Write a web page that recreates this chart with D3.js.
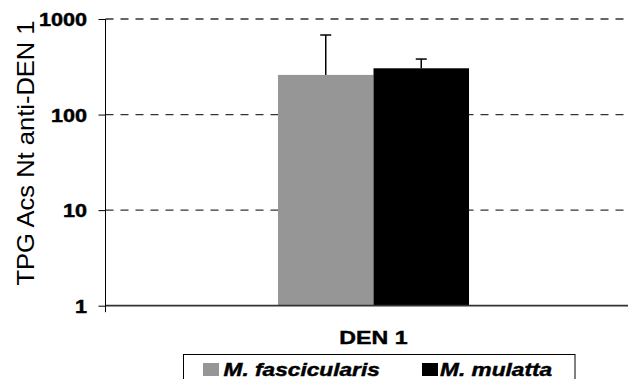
<!DOCTYPE html>
<html>
<head>
<meta charset="utf-8">
<script src="https://cdn.jsdelivr.net/npm/d3@7/dist/d3.min.js"></script>
<style>
  html, body { margin: 0; padding: 0; background: #fff; }
  svg { display: block; font-family: Arial, "Liberation Sans", sans-serif; }
</style>
</head>
<body>
<svg id="chart" width="629" height="379"></svg>
<script>
// Titres de neutralisation anti-DEN 1 (moyenne + écart-type) par espèce
const categories = ["DEN 1"];
const seriesNames = ["M. fascicularis", "M. mulatta"];
const means = [260, 305];
const sdUpper = [420, 76];
const yTicks = [1, 10, 100, 1000];
const yTitle = "TPG Acs Nt anti-DEN 1";

const colors = { "M. fascicularis": "#969696", "M. mulatta": "#000000" };
const W = 629, H = 379;
const SX = 1.22; // horizontal widening of the lettering

const svg = d3.select("#chart");
svg.append("rect").attr("width", W).attr("height", H).attr("fill", "#fff");

const axisX = 105.5;
const y = d3.scaleLog().domain([1, 1000]).range([305.7, 19]);
const x0 = d3.scaleBand().domain(categories).range([axisX, 641.5])
  .paddingInner(0).paddingOuter(0.903);
const x1 = d3.scaleBand().domain(seriesNames).range([0, x0.bandwidth()]).padding(0);

// helper: text widened horizontally around its anchor, bold faces slightly heavier
function wideText(g, str, px, py, opts) {
  const t = g.append("text")
    .attr("transform", `translate(${px},${py}) scale(${SX},1)`)
    .attr("text-anchor", opts.anchor || "start")
    .attr("font-size", opts.size)
    .attr("font-weight", opts.weight || "normal")
    .attr("font-style", opts.style || "normal")
    .attr("fill", "#000")
    .text(str);
  if (opts.weight === "bold") t.attr("stroke", "#000").attr("stroke-width", 0.45);
  return t;
}

// dashed gridlines
svg.append("g").selectAll("line")
  .data(yTicks.filter(d => d > 1))
  .join("line")
  .attr("x1", axisX).attr("x2", W)
  .attr("y1", d => y(d)).attr("y2", d => y(d))
  .attr("stroke", "#333").attr("stroke-width", 1.3)
  .attr("stroke-dasharray", "8,7");

// bars
const rows = categories.map(c => seriesNames.map((s, i) => ({ cat: c, s, v: means[i], e: sdUpper[i] })));
const grp = svg.append("g").selectAll("g").data(rows).join("g")
  .attr("transform", (d, i) => `translate(${x0(categories[i])},0)`);
grp.selectAll("rect").data(d => d).join("rect")
  .attr("x", d => x1(d.s))
  .attr("width", x1.bandwidth())
  .attr("y", d => y(d.v))
  .attr("height", d => y(1) - y(d.v))
  .attr("fill", d => colors[d.s]);

// error bars (upper only)
const capHalf = 5.5;
grp.selectAll("g.err").data(d => d).join("g").attr("class", "err")
  .each(function (d) {
    const cx = x1(d.s) + x1.bandwidth() / 2;
    const g = d3.select(this);
    g.append("line").attr("x1", cx).attr("x2", cx)
      .attr("y1", y(d.v)).attr("y2", y(d.v + d.e))
      .attr("stroke", "#000").attr("stroke-width", 1.5);
    g.append("line").attr("x1", cx - capHalf).attr("x2", cx + capHalf)
      .attr("y1", y(d.v + d.e)).attr("y2", y(d.v + d.e))
      .attr("stroke", "#000").attr("stroke-width", 1.5);
  });

// x axis baseline
svg.append("line")
  .attr("x1", axisX).attr("x2", 628)
  .attr("y1", y(1)).attr("y2", y(1))
  .attr("stroke", "#333").attr("stroke-width", 1.7);

// y axis
const yAxis = d3.axisLeft(y).tickValues(yTicks).tickSize(7).tickSizeOuter(0)
  .tickFormat(d3.format("d"));
const yg = svg.append("g").attr("transform", `translate(${axisX},0)`).call(yAxis);
yg.select(".domain").remove();
yg.selectAll(".tick line").attr("stroke", "#000").attr("stroke-width", 1);
yg.selectAll(".tick text").remove();
yg.selectAll(".tick").each(function (d) {
  wideText(d3.select(this), d3.format("d")(d), -18.5, 6.8,
    { anchor: "end", size: 17.7, weight: "bold" });
});
svg.append("line")
  .attr("x1", axisX).attr("x2", axisX)
  .attr("y1", y(1000)).attr("y2", y(1) + 6.5)
  .attr("stroke", "#000").attr("stroke-width", 1);

// y axis title
svg.append("text")
  .attr("transform", "translate(34,153) rotate(-90)")
  .attr("text-anchor", "middle")
  .attr("font-size", 24)
  .attr("textLength", 265)
  .attr("lengthAdjust", "spacingAndGlyphs")
  .attr("fill", "#000")
  .text(yTitle);

// category label
categories.forEach(c => {
  wideText(svg, c, x0(c) + x0.bandwidth() / 2, 344, { anchor: "middle", size: 19, weight: "bold" });
});

// legend
const lg = svg.append("g");
lg.append("rect").attr("x", 183.5).attr("y", 354.5).attr("width", 391.5).attr("height", 40)
  .attr("fill", "#fff").attr("stroke", "#000").attr("stroke-width", 1);
const legendPos = [{ sw: 203, tx: 223.5 }, { sw: 422, tx: 440 }];
seriesNames.forEach((s, i) => {
  lg.append("rect").attr("x", legendPos[i].sw).attr("y", 363).attr("width", 16).attr("height", 13)
    .attr("fill", colors[s]);
  wideText(lg, s, legendPos[i].tx, 376, { size: 18.6, weight: "bold", style: "italic" });
});
</script>
</body>
</html>
